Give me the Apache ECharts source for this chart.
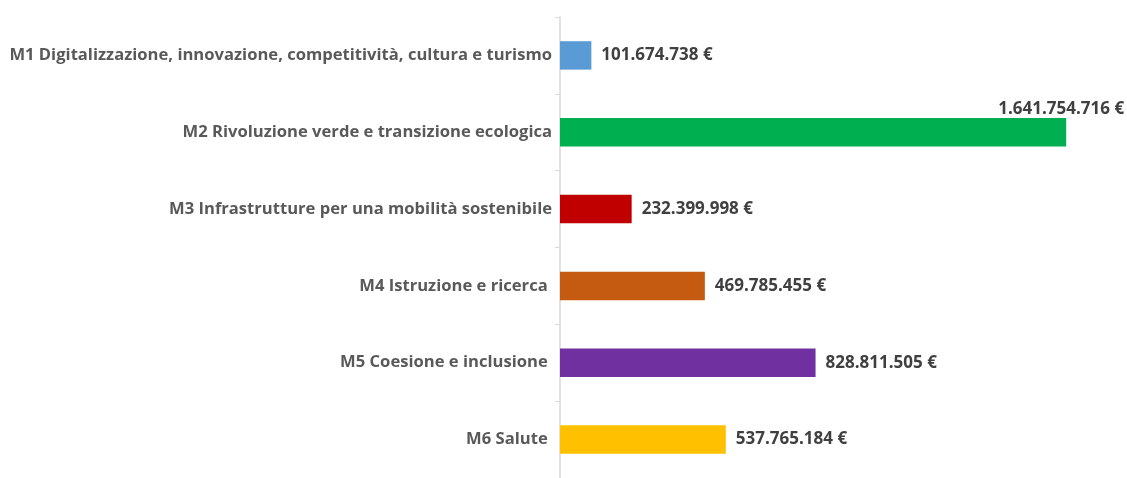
<!DOCTYPE html>
<html>
<head>
<meta charset="utf-8">
<script src="https://cdn.jsdelivr.net/npm/echarts@6/dist/echarts.min.js"></script>
<style>
  html, body { margin: 0; padding: 0; background: #fff; }
  #chart { width: 1127px; height: 478px; }
</style>
</head>
<body>
<div id="chart"></div>
<script>
// dati
const categories = [
  "M1 Digitalizzazione, innovazione, competitività, cultura e turismo",
  "M2 Rivoluzione verde e transizione ecologica",
  "M3 Infrastrutture per una mobilità sostenibile",
  "M4 Istruzione e ricerca ",
  "M5 Coesione e inclusione ",
  "M6 Salute "
];
const values = [101674738, 1641754716, 232399998, 469785455, 828811505, 537765184];
const colors = ["#5B9BD5", "#00B050", "#C00000", "#C55A11", "#7030A0", "#FFC000"];

const fmt = (v) => String(v).replace(/\B(?=(\d{3})+(?!\d))/g, ".") + " €";

const chart = echarts.init(document.getElementById("chart"));
const labelStyle = {
  show: true,
  position: "right",
  distance: 10,
  color: "#404040",
  fontFamily: "Open Sans",
  fontWeight: "bold",
  fontSize: 17,
  formatter: (p) => fmt(p.value)
};

chart.setOption({
  animation: false,
  grid: { left: 560, right: 12, top: 17, height: 468 },
  xAxis: {
    type: "value",
    min: 0,
    max: 1800000000,
    show: false
  },
  yAxis: {
    type: "category",
    data: categories,
    inverse: true,
    axisLine: { lineStyle: { color: "#d9d9d9", width: 1.5 } },
    axisTick: { show: true, length: 5, lineStyle: { color: "#d9d9d9" } },
    axisLabel: {
      color: "#595959",
      fontFamily: "Open Sans",
      fontWeight: "bold",
      fontSize: 16.6,
      margin: 8
    }
  },
  series: [
    {
      type: "bar",
      barWidth: "37%",
      data: values.map((v, i) => ({
        value: v,
        itemStyle: { color: colors[i] },
        label: i === 1
          ? Object.assign({}, labelStyle, {
              position: ["100%", 0],
              align: "center",
              verticalAlign: "bottom",
              offset: [-5, 0]
            })
          : labelStyle
      }))
    }
  ]
});
</script>
</body>
</html>
